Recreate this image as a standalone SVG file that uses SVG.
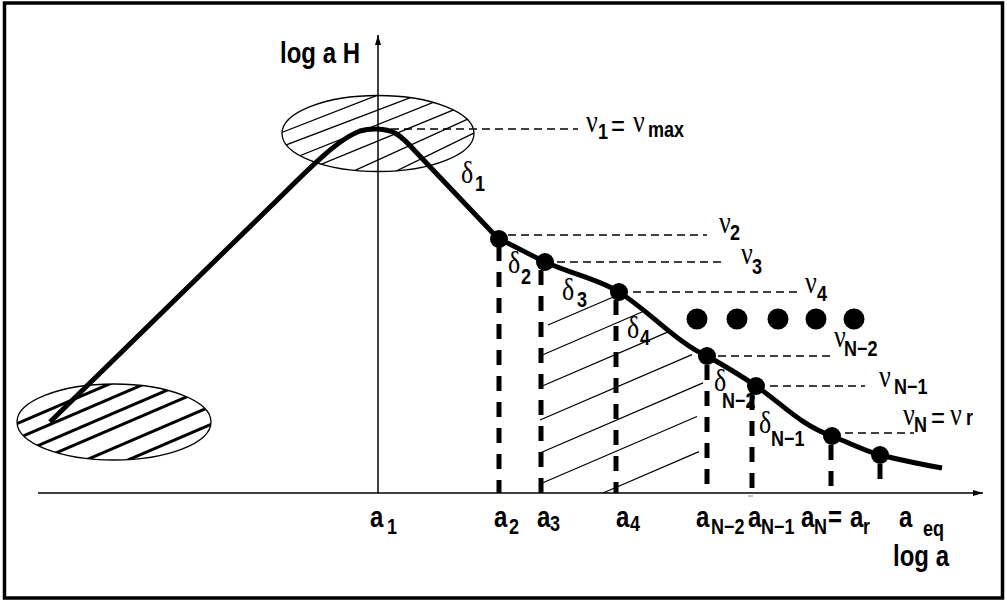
<svg xmlns="http://www.w3.org/2000/svg" width="1007" height="603" viewBox="0 0 1007 603">
<defs>
<style>
.lbl{font-family:"Liberation Sans",Arial,sans-serif;font-weight:bold;font-size:24px;fill:#000}
.sub{font-family:"Liberation Sans",Arial,sans-serif;font-weight:bold;font-size:18px;fill:#000}
.gr{font-family:"Liberation Serif","Times New Roman",serif;font-size:26px;fill:#000}
.eq{font-family:"Liberation Sans",Arial,sans-serif;font-size:24px;fill:#000}
.hd{stroke:#000;stroke-width:1.6;stroke-dasharray:8 5;fill:none}
.vd{stroke:#000;stroke-width:5;stroke-dasharray:15 11;fill:none}
.ht{stroke:#000;stroke-width:1.3}
.hb{stroke:#000;stroke-width:3}
.ax{stroke:#000;stroke-width:1.5;fill:none}
.ell{stroke:#000;stroke-width:1.3;fill:none}
.dot{fill:#000}
</style>
<clipPath id="clipTop"><ellipse cx="378" cy="133.5" rx="96" ry="38"/></clipPath>
<clipPath id="clipBot"><ellipse cx="114" cy="422" rx="97" ry="38"/></clipPath>
<marker id="arr" viewBox="0 0 10 6" refX="10" refY="3" markerWidth="10" markerHeight="6" orient="auto" markerUnits="userSpaceOnUse"><path d="M0,0 L10,3 L0,6 z" fill="#000"/></marker>
</defs>
<rect x="4.5" y="3" width="998" height="595" fill="#fff" stroke="#000" stroke-width="3.5"/>

<g id="axes">
<line class="ax" x1="38" y1="493" x2="983" y2="493" marker-end="url(#arr)"/>
<line class="ax" x1="378" y1="493" x2="378" y2="35" stroke-width="1.2" marker-end="url(#arr)"/>
<line x1="748" y1="496" x2="753" y2="496" stroke="#888" stroke-width="1"/>
</g>

<g id="top-ellipse">
<g clip-path="url(#clipTop)">
<line class="ht" x1="270" y1="137.1" x2="490" y2="51.3"/>
<line class="ht" x1="270" y1="151" x2="490" y2="67.4"/>
<line class="ht" x1="270" y1="167.7" x2="490" y2="79.7"/>
<line class="ht" x1="270" y1="185.3" x2="490" y2="95"/>
<line class="ht" x1="270" y1="209.1" x2="490" y2="109"/>
<line class="ht" x1="270" y1="232.9" x2="490" y2="125.1"/>
</g>
<ellipse class="ell" cx="378" cy="133.5" rx="96" ry="38"/>
</g>

<g id="bottom-ellipse">
<g clip-path="url(#clipBot)">
<line class="hb" x1="16" y1="424.1" x2="212" y2="339.9"/>
<line class="hb" x1="16" y1="439.1" x2="212" y2="354.9"/>
<line class="hb" x1="16" y1="455.1" x2="212" y2="370.9"/>
<line class="hb" x1="16" y1="470.1" x2="212" y2="385.9"/>
<line class="hb" x1="16" y1="490.1" x2="212" y2="405.9"/>
<line class="hb" x1="16" y1="508.1" x2="212" y2="423.9"/>
</g>
<ellipse class="ell" cx="114" cy="422" rx="97" ry="38"/>
</g>

<g id="region-hatch">
<line class="ht" x1="548" y1="325" x2="618" y2="295"/>
<line class="ht" x1="540" y1="356" x2="642" y2="312"/>
<line class="ht" x1="540" y1="387" x2="667" y2="332.4"/>
<line class="ht" x1="540" y1="420" x2="692" y2="354.6"/>
<line class="ht" x1="540" y1="453" x2="703" y2="382.9"/>
<line class="ht" x1="540" y1="484" x2="697" y2="416.5"/>
<line class="ht" x1="603" y1="493" x2="699" y2="451.7"/>
</g>

<g id="connectors">
<line class="hd" x1="378" y1="129" x2="578" y2="129"/>
<line class="hd" x1="508" y1="235" x2="707" y2="235"/>
<line class="hd" x1="557" y1="262" x2="723" y2="262"/>
<line class="hd" x1="633" y1="292" x2="798" y2="292"/>
<line class="hd" x1="718" y1="356" x2="832" y2="356"/>
<line class="hd" x1="770" y1="386" x2="865" y2="386"/>
<line class="hd" x1="845" y1="433" x2="914" y2="433"/>
<line class="vd" x1="499" y1="246" x2="499" y2="493"/>
<line class="vd" x1="541" y1="270" x2="541" y2="493"/>
<line class="vd" x1="616" y1="300" x2="616" y2="493"/>
<line class="vd" x1="707" y1="365" x2="707" y2="490"/>
<line class="vd" x1="752" y1="395" x2="752" y2="490"/>
<line class="vd" x1="831" y1="445" x2="831" y2="490"/>
<line class="vd" x1="880" y1="464" x2="880" y2="490"/>
</g>

<g id="curve">
<path d="M50 422 L270 207 C300 178 335 140 360 131 C370 128 385 128 395 133 C402 137 408 143 415 151 L490 230 C494 234 496 237 499 239 C515 246 530 255 545 262 C575 275 600 280 619 292 C650 312 680 345 707 356 C725 366 740 375 756 386 C780 402 800 425 832 436 C850 443 862 450 880 455 C905 461 925 465 942 468" fill="none" stroke="#000" stroke-width="5" stroke-linejoin="round"/>
</g>

<g id="points">
<circle class="dot" cx="499" cy="239" r="9"/>
<circle class="dot" cx="545" cy="262" r="9"/>
<circle class="dot" cx="619" cy="292" r="9"/>
<circle class="dot" cx="707" cy="356" r="9"/>
<circle class="dot" cx="756" cy="386" r="9"/>
<circle class="dot" cx="832" cy="436" r="9"/>
<circle class="dot" cx="880" cy="455" r="9"/>
</g>

<g id="ellipsis-dots">
<circle class="dot" cx="697" cy="319" r="10.5"/>
<circle class="dot" cx="737" cy="319" r="10.5"/>
<circle class="dot" cx="778" cy="319" r="10.5"/>
<circle class="dot" cx="816" cy="319" r="10.5"/>
<circle class="dot" cx="854" cy="319" r="10.5"/>
</g>

<g id="labels">
<text class="lbl" transform="translate(280 63) scale(1 1.2)">log a H</text>
<text class="gr" transform="translate(586 132) scale(1 1.2)">ν</text><text class="sub" transform="translate(598 139) scale(1 1.2)">1</text>
<text class="eq" transform="translate(611 136) scale(1 1.2)">=</text>
<text class="gr" transform="translate(633 132) scale(1 1.2)">ν</text><text class="sub" font-size="17" transform="translate(648 137) scale(1 1.2)">max</text>
<text class="gr" transform="translate(461 183) scale(1 1.2)">δ</text><text class="sub" transform="translate(475 191) scale(1 1.2)">1</text>
<text class="gr" transform="translate(719 233) scale(1 1.2)">ν</text><text class="sub" transform="translate(730 240) scale(1 1.2)">2</text>
<text class="gr" transform="translate(741 264) scale(1 1.2)">ν</text><text class="sub" transform="translate(752 274) scale(1 1.2)">3</text>
<text class="gr" transform="translate(508 273) scale(1 1.2)">δ</text><text class="sub" transform="translate(521 284) scale(1 1.2)">2</text>
<text class="gr" transform="translate(562 300) scale(1 1.2)">δ</text><text class="sub" transform="translate(577 307) scale(1 1.2)">3</text>
<text class="gr" transform="translate(805 293) scale(1 1.2)">ν</text><text class="sub" transform="translate(817 301) scale(1 1.2)">4</text>
<text class="gr" transform="translate(627 338) scale(1 1.2)">δ</text><text class="sub" transform="translate(640 345) scale(1 1.2)">4</text>
<text class="gr" transform="translate(834 347) scale(1 1.2)">ν</text><text class="sub" transform="translate(844 356) scale(1 1.2)">N−2</text>
<text class="gr" transform="translate(714 391) scale(1 1.2)">δ</text><text class="sub" transform="translate(722 408) scale(1 1.2)">N−2</text>
<text class="gr" transform="translate(879 387) scale(1 1.2)">ν</text><text class="sub" transform="translate(894 394) scale(1 1.2)">N−1</text>
<text class="gr" transform="translate(759 433) scale(1 1.2)">δ</text><text class="sub" transform="translate(771 446) scale(1 1.2)">N−1</text>
<text class="gr" transform="translate(903 425) scale(1 1.2)">ν</text><text class="sub" transform="translate(914 432) scale(1 1.2)">N</text>
<text class="eq" transform="translate(931 428) scale(1 1.2)">=</text>
<text class="gr" transform="translate(950 425) scale(1 1.2)">ν</text><text class="sub" font-size="19" transform="translate(966 425) scale(1 1.2)">r</text>
</g>

<g id="axis-labels">
<text class="lbl" transform="translate(370 527) scale(1 1.2)">a</text><text class="sub" transform="translate(387 534) scale(1 1.2)">1</text>
<text class="lbl" transform="translate(494 527) scale(1 1.2)">a</text><text class="sub" transform="translate(509 534) scale(1 1.2)">2</text>
<text class="lbl" transform="translate(537 527) scale(1 1.2)">a</text><text class="sub" transform="translate(550 531) scale(1 1.2)">3</text>
<text class="lbl" transform="translate(616 527) scale(1 1.2)">a</text><text class="sub" transform="translate(630 531) scale(1 1.2)">4</text>
<text class="lbl" transform="translate(696 527) scale(1 1.2)">a</text><text class="sub" transform="translate(711 534) scale(1 1.2)">N−2</text>
<text class="lbl" transform="translate(748 527) scale(1 1.2)">a</text><text class="sub" transform="translate(761 534) scale(1 1.2)">N−1</text>
<text class="lbl" transform="translate(801 527) scale(1 1.2)">a</text><text class="sub" transform="translate(814 534) scale(1 1.2)">N</text>
<text class="lbl" transform="translate(828 527) scale(1 1.2)">=</text>
<text class="lbl" transform="translate(850 527) scale(1 1.2)">a</text><text class="sub" transform="translate(863 534) scale(1 1.2)">r</text>
<text class="lbl" transform="translate(899 527) scale(1 1.2)">a</text><text class="sub" transform="translate(923 536) scale(1 1.2)">eq</text>
<text class="lbl" transform="translate(893 566) scale(1 1.2)">log a</text>
</g>
</svg>
